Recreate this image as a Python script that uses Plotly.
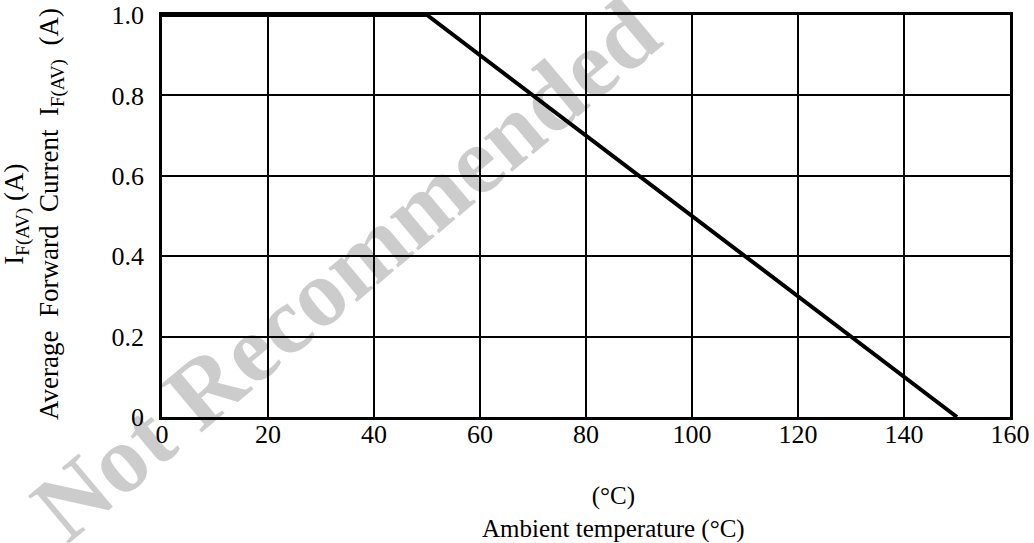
import plotly.graph_objects as go

# Derating curve: ambient temperature (°C) vs average forward current (A)
temp_c = [0, 50, 150]
current_a = [1.0, 1.0, 0.0]

x_ticks = [0, 20, 40, 60, 80, 100, 120, 140, 160]
y_ticks = [0, 0.2, 0.4, 0.6, 0.8, 1.0]
y_tick_labels = ["0", "0.2", "0.4", "0.6", "0.8", "1.0"]

FONT = "Liberation Serif, Times New Roman, serif"
NB = "\u00a0"

fig = go.Figure()
fig.add_trace(go.Scatter(
    x=temp_c, y=current_a, mode="lines",
    line=dict(color="black", width=4),
    showlegend=False, hoverinfo="skip", cliponaxis=False,
))

axis_common = dict(
    showgrid=True, gridcolor="black", gridwidth=2,
    showline=True, linecolor="black", linewidth=2.5, mirror=True,
    zeroline=False, ticks="", automargin=False,
    tickfont=dict(family=FONT, size=26, color="black"),
)

fig.update_xaxes(range=[0, 160], tickvals=x_ticks,
                 ticktext=[str(v) for v in x_ticks],
                 ticklabelstandoff=-8, **axis_common)
fig.update_yaxes(range=[0, 1.0], tickvals=y_ticks, ticktext=y_tick_labels,
                 ticklabelstandoff=10, **axis_common)

y_title = ("I<sub>F(AV)</sub> (A)<br>Average" + NB * 2 + "Forward" + NB * 2 +
           "Current" + NB * 2 + "I<sub>F(AV)</sub>" + NB * 2 + "(A)")
x_title = "(°C)<br>Ambient temperature (°C)"

fig.update_layout(
    width=1034, height=543,
    margin=dict(l=162, r=24, t=15, b=126, autoexpand=False),
    paper_bgcolor="white", plot_bgcolor="white",
    font=dict(family=FONT, color="black"),
    annotations=[
        # watermark (semi-transparent black so grid lines stay black through it)
        dict(text="<b>Not Recommended</b>", xref="paper", yref="paper",
             x=0.216, y=0.366, xanchor="center", yanchor="middle",
             textangle=-40, showarrow=False,
             font=dict(family=FONT, size=96, color="rgba(0,0,0,0.2)")),
        dict(text=y_title, xref="paper", yref="paper",
             x=-0.151, y=0.505, xanchor="center", yanchor="middle",
             textangle=-90, showarrow=False,
             font=dict(family=FONT, size=27, color="black")),
        dict(text=x_title, xref="paper", yref="paper",
             x=0.532, y=-0.238, xanchor="center", yanchor="middle",
             showarrow=False,
             font=dict(family=FONT, size=25, color="black")),
    ],
)

fig.write_html("out.html",
               config={"displayModeBar": False},
               post_script="document.body.style.margin='0px';")
